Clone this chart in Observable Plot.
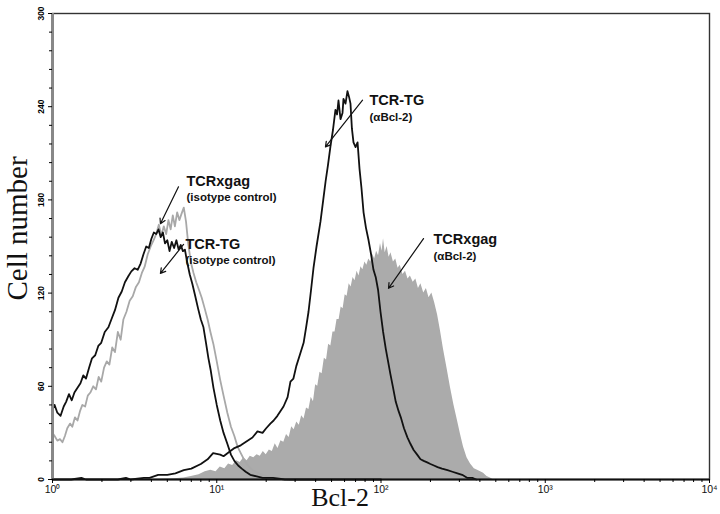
<!DOCTYPE html>
<html><head><meta charset="utf-8">
<script src="https://cdn.jsdelivr.net/npm/d3@7"></script>
<script src="https://cdn.jsdelivr.net/npm/@observablehq/plot@0.6"></script>
<style>body{margin:0;background:#fff}</style>
</head><body><div id="chart"></div>
<script>
// Bcl-2 fluorescence (log scale) vs cell number
const tgIso = [[1.00,45],[1.03,48],[1.07,43],[1.12,41],[1.17,47],[1.21,50],[1.26,55],[1.31,51],[1.36,56],[1.42,59],[1.48,62],[1.54,67],[1.60,65],[1.67,72],[1.74,78],[1.82,80],[1.90,86],[1.98,88],[2.08,95],[2.19,98],[2.30,104],[2.40,109],[2.52,117],[2.64,121],[2.76,127],[2.90,131],[3.02,134],[3.16,136],[3.30,135],[3.44,139],[3.58,145],[3.72,150],[3.86,149],[4.00,155],[4.14,159],[4.28,158],[4.42,161],[4.56,156],[4.70,159],[4.84,152],[5.00,154],[5.16,147],[5.32,153],[5.50,149],[5.68,154],[5.86,148],[6.04,151],[6.22,147],[6.40,148],[6.60,140],[6.85,132],[7.10,126],[7.40,118],[7.70,110],[8.00,103],[8.30,98],[8.60,88],[8.90,78],[9.20,70],[9.55,59],[10.0,48],[10.5,38],[11.0,30],[11.6,23],[12.2,16],[12.8,12],[13.5,9],[14.2,7],[15.0,5],[16.0,3],[17.5,2],[19,1],[22,1],[26,0],[40,0],[100,0]];

const gagIso = [[1.00,30],[1.03,28],[1.07,25],[1.11,26],[1.15,24],[1.19,28],[1.23,33],[1.28,36],[1.32,34],[1.37,40],[1.42,38],[1.47,44],[1.52,48],[1.58,47],[1.64,54],[1.70,56],[1.77,60],[1.84,58],[1.91,66],[1.98,63],[2.06,72],[2.14,76],[2.22,74],[2.31,85],[2.40,82],[2.50,95],[2.60,90],[2.70,103],[2.82,108],[2.95,115],[3.08,118],[3.22,124],[3.36,127],[3.50,133],[3.64,137],[3.80,145],[3.96,150],[4.12,154],[4.28,158],[4.44,164],[4.60,157],[4.76,163],[4.92,158],[5.08,167],[5.24,161],[5.40,170],[5.56,163],[5.74,172],[5.92,167],[6.10,171],[6.30,175],[6.50,166],[6.70,152],[6.95,140],[7.22,133],[7.50,127],[7.80,122],[8.10,117],[8.45,110],[8.80,103],[9.15,95],[9.55,87],[10.0,76],[10.5,64],[11.0,54],[11.6,43],[12.2,34],[12.8,28],[13.4,21],[14.0,17],[14.8,12],[15.5,9],[16.5,6],[18,4],[20,2],[23,1],[28,0],[40,0]];

const tgBcl = [[1.00,0],[1.3,0],[1.5,1],[1.6,0],[2.5,0],[2.8,1],[3.0,0],[3.6,1],[3.9,1],[4.4,3],[5.0,3],[5.6,4],[6.3,6],[7.0,7],[8.0,10],[8.8,13],[9.5,17],[10.5,16],[11.0,15],[12.0,18],[12.7,20],[14.0,22],[15.4,25],[16.5,27],[17.7,31],[19.0,30],[20.0,33],[21.2,36],[22.2,38],[23.4,41],[24.4,44],[25.5,47],[27.0,53],[28.1,63],[29.3,65],[30.5,73],[32.0,80],[33.8,88],[35.0,98],[36.2,108],[37.5,122],[38.8,136],[40.5,150],[42.8,166],[44.5,180],[46.0,192],[47.5,202],[49.3,215],[51.0,225],[52.8,238],[54.0,235],[55.1,244],[56.7,232],[58.3,236],[59.1,245],[60.8,242],[62.5,250],[64.0,246],[65.2,242],[66.5,226],[68.0,217],[70.0,214],[72.0,217],[74.0,200],[76.0,188],[78.3,172],[81.0,162],[84.0,154],[87.0,145],[90.0,135],[93.0,130],[96.0,122],[99.3,108],[103,95],[107,84],[110,77],[114,68],[118,60],[123,50],[128,44],[132,40],[138,33],[145,27],[151,23],[158,19],[166,16],[174,13],[182,12],[191,11],[200,10],[210,9],[221,8],[235,7],[254,6],[272,5],[292,4],[312,3],[336,1],[360,1],[380,0]];

const gagBcl = [[1,0],[4,0],[5.5,0.5],[6.3,1],[7.0,2],[7.8,3],[8.5,5],[9.2,6],[9.9,5],[10.5,8],[11.2,7],[11.8,10],[12.5,9],[13.2,12],[13.9,11],[14.6,14],[15.3,12],[16.0,15],[16.8,14],[17.6,16],[18.4,15],[19.2,18],[20.0,16],[20.9,19],[21.8,18],[22.7,23],[23.6,20],[24.6,25],[25.6,24],[26.6,29],[27.6,27],[28.6,34],[29.6,32],[30.7,37],[31.8,35],[32.9,41],[34.0,39],[35.2,46],[36.4,45],[37.6,53],[38.8,50],[40.0,61],[41.2,60],[42.5,69],[43.8,68],[45.2,78],[46.6,77],[48.0,87],[49.5,86],[51.0,95],[52.5,95],[54.0,103],[55.6,103],[57.2,111],[58.8,110],[60.5,119],[62.2,118],[64.0,126],[65.8,124],[67.6,130],[69.5,128],[71.5,134],[73.5,131],[75.5,137],[77.6,135],[79.8,140],[82.0,138],[84.3,142],[86.6,140],[89.0,145],[91.5,142],[94.0,147],[96.6,144],[99.3,152],[101.5,147],[103.6,155],[106,146],[109,150],[112,143],[115,146],[119,140],[123,142],[127,136],[131,138],[136,132],[141,134],[146,129],[151,131],[157,127],[163,129],[169,123],[175,126],[182,120],[189,123],[196,117],[204,120],[212,114],[221,106],[230,96],[240,84],[252,72],[265,59],[278,48],[292,38],[305,29],[318,21],[334,14],[351,10],[370,7],[387,6],[404,5],[421,4],[442,2],[464,1],[480,0]];

const xMajor = [1, 10, 100, 1000, 10000];
const xMajorLabels = ["10⁰", "10¹", "10²", "10³", "10⁴"];
const yMajor = [0, 60, 120, 180, 240, 300];

// annotations (in data units)
const labelNames = ["TCRxgag", "TCR-TG", "TCR-TG", "TCRxgag"];
const labelSubs = ["(isotype control)", "(isotype control)", "(αBcl-2)", "(αBcl-2)"];
const labelX = [6.54, 6.45, 85.1, 208.8];
const labelY = [191.7, 151.3, 244.2, 154.5];
const subY = [181.4, 141.0, 233.3, 143.6];
const arrowX1 = [5.85, 6.28, 77.2, 181.5];
const arrowY1 = [188.4, 151.3, 244.2, 155.1];
const arrowX2 = [4.54, 4.54, 45.9, 111.1];
const arrowY2 = [164.7, 132.7, 214.1, 123.1];

const xMinor = [];
for (const d of [1, 10, 100, 1000]) for (let k = 2; k <= 9; k++) xMinor.push(k * d);
const yMinor = d3.range(12, 300, 12).filter(v => v % 60 !== 0);
const idx = d3.range(labelNames.length);

const X = d => d[0], Y = d => d[1];
const serif = "'Liberation Serif', 'Times New Roman', serif";

const chart = Plot.plot({
  width: 720, height: 514,
  marginLeft: 52, marginRight: 11, marginTop: 13, marginBottom: 35,
  x: {type: "log", domain: [1, 10000]},
  y: {domain: [0, 300]},
  style: {fontFamily: "'Liberation Sans', Arial, sans-serif", background: "#fff", overflow: "visible"},
  marks: [
    Plot.areaY(gagBcl, {x: X, y: Y, fill: "#ababab"}),
    Plot.line(gagIso, {x: X, y: Y, stroke: "#a8a8a8", strokeWidth: 1.8}),
    Plot.line(tgIso, {x: X, y: Y, stroke: "#111", strokeWidth: 1.8}),
    Plot.line(tgBcl, {x: X, y: Y, stroke: "#111", strokeWidth: 1.8}),
    Plot.frame({stroke: "#333", strokeWidth: 1.4}),
    Plot.ruleX([1], {stroke: "#888", strokeWidth: 3}),
    Plot.ruleY([0], {stroke: "#111", strokeWidth: 2}),
    Plot.axisX({ticks: xMinor, tickFormat: () => "", tickSize: 3, label: null}),
    Plot.axisX({ticks: xMajor, tickFormat: () => "", tickSize: 4, label: null}),
    Plot.text(xMajor, {x: d => d, text: d => xMajorLabels[xMajor.indexOf(d)], frameAnchor: "bottom", textAnchor: "middle", lineAnchor: "middle", dy: 10, fontSize: 10.5, fill: "#111"}),
    Plot.axisY({ticks: yMajor, tickFormat: () => "", tickSize: 4, label: null}),
    Plot.axisY({ticks: yMinor, tickFormat: () => "", tickSize: 3, label: null}),
    Plot.text(yMajor, {y: d => d, text: d => String(d), frameAnchor: "left", textAnchor: "middle", lineAnchor: "middle", rotate: -90, dx: -11, fontSize: 8.5, fontWeight: "bold"}),
    Plot.text(idx, {x: i => labelX[i], y: i => labelY[i], text: i => labelNames[i], textAnchor: "start", fontSize: 14.5, fontWeight: "bold", fill: "#111"}),
    Plot.text(idx, {x: i => labelX[i], y: i => subY[i], text: i => labelSubs[i], textAnchor: "start", fontSize: 11.5, fontWeight: "bold", fill: "#111"}),
    Plot.arrow(idx, {x1: i => arrowX1[i], y1: i => arrowY1[i], x2: i => arrowX2[i], y2: i => arrowY2[i], stroke: "#111", strokeWidth: 1.2, headLength: 7}),
    Plot.text(["Cell number"], {text: d => d, frameAnchor: "left", textAnchor: "middle", lineAnchor: "middle", rotate: -90, dx: -35, dy: -18, fontSize: 29, fontFamily: serif, fill: "#111"}),
    Plot.text(["Bcl-2"], {text: d => d, frameAnchor: "bottom", textAnchor: "middle", lineAnchor: "middle", dx: -41, dy: 18, fontSize: 26, fontFamily: serif, fill: "#111"})
  ]
});
document.getElementById("chart").appendChild(chart);
</script>
</body></html>
